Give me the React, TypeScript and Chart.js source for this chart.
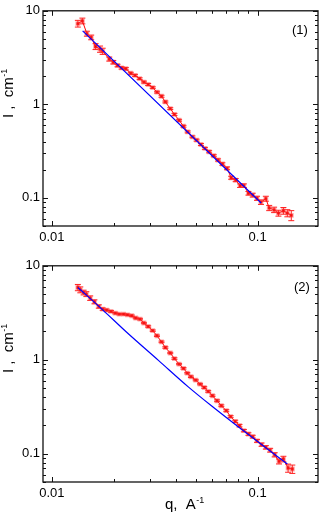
import React, { useEffect, useRef } from 'react';
import { Chart, registerables } from 'chart.js';
Chart.register(...registerables);

// ---------- data: panel (1) ----------
const q1 = [0.01337, 0.01406, 0.01479, 0.01552, 0.0163, 0.01714, 0.01765, 0.019, 0.01987, 0.02084, 0.0218, 0.02287, 0.02416, 0.02535, 0.02669, 0.028, 0.02937, 0.0309, 0.03243, 0.0341, 0.0356, 0.0376, 0.0394, 0.0415, 0.0436, 0.0457, 0.0482, 0.0505, 0.053, 0.0554, 0.0581, 0.0612, 0.0642, 0.0674, 0.071, 0.0744, 0.0782, 0.0822, 0.0857, 0.0902, 0.0946, 0.0993, 0.1038, 0.1096, 0.1138, 0.1202, 0.1262, 0.1334, 0.1394, 0.1457];
const I1 = [7.3, 7.8, 5.7, 5.2, 4.15, 3.9, 3.7, 3.05, 2.82, 2.6, 2.45, 2.4, 2.15, 2.04, 1.88, 1.73, 1.63, 1.51, 1.35, 1.22, 1.06, 0.9, 0.78, 0.676, 0.583, 0.507, 0.449, 0.414, 0.372, 0.338, 0.311, 0.282, 0.254, 0.23, 0.207, 0.164, 0.155, 0.135, 0.135, 0.112, 0.107, 0.099, 0.09, 0.098, 0.078, 0.0745, 0.0687, 0.0728, 0.0687, 0.065];
const err1 = [0.6, 0.55, 0.35, 0.3, 0.3, 0.3, 0.28, 0.15, 0.12, 0.08, 0.07, 0.07, 0.05, 0.05, 0.04, 0.04, 0.04, 0.03, 0.03, 0.03, 0.025, 0.02, 0.02, 0.015, 0.013, 0.012, 0.01, 0.01, 0.009, 0.008, 0.008, 0.007, 0.007, 0.007, 0.007, 0.006, 0.006, 0.006, 0.006, 0.005, 0.005, 0.005, 0.005, 0.006, 0.005, 0.005, 0.005, 0.006, 0.006, 0.008];
const fitQ1 = [0.0141, 0.104];
const fitI1 = [6.1, 0.088];

// ---------- data: panel (2) ----------
const q2 = [0.01337, 0.01374, 0.01426, 0.0147, 0.01535, 0.0161, 0.0169, 0.01765, 0.01845, 0.01937, 0.02032, 0.02124, 0.0223, 0.0233, 0.02445, 0.02555, 0.0268, 0.028, 0.02937, 0.0309, 0.0324, 0.0341, 0.0356, 0.0376, 0.0394, 0.0415, 0.0436, 0.0455, 0.0474, 0.05, 0.0525, 0.055, 0.0575, 0.0603, 0.0635, 0.0666, 0.0704, 0.0739, 0.0778, 0.0816, 0.0857, 0.0902, 0.0946, 0.0993, 0.1045, 0.1096, 0.115, 0.121, 0.127, 0.1334, 0.1406, 0.1474];
const I2 = [5.88, 5.56, 5.2, 5.0, 4.53, 4.14, 3.69, 3.46, 3.38, 3.27, 3.14, 3.06, 3.06, 3.01, 2.94, 2.78, 2.71, 2.46, 2.26, 2.04, 1.8, 1.55, 1.35, 1.18, 1.03, 0.9, 0.81, 0.72, 0.659, 0.608, 0.551, 0.507, 0.46, 0.414, 0.366, 0.324, 0.287, 0.248, 0.221, 0.199, 0.176, 0.162, 0.152, 0.137, 0.125, 0.117, 0.109, 0.0975, 0.0828, 0.0879, 0.0705, 0.0687];
const err2 = [0.45, 0.4, 0.3, 0.3, 0.25, 0.2, 0.15, 0.1, 0.08, 0.07, 0.06, 0.05, 0.05, 0.05, 0.05, 0.05, 0.05, 0.04, 0.04, 0.035, 0.03, 0.03, 0.025, 0.02, 0.02, 0.015, 0.015, 0.013, 0.012, 0.011, 0.01, 0.01, 0.009, 0.008, 0.008, 0.007, 0.007, 0.006, 0.006, 0.006, 0.005, 0.005, 0.005, 0.005, 0.005, 0.005, 0.005, 0.005, 0.005, 0.006, 0.007, 0.007];
const fitQ2 = [0.01337, 0.01765, 0.02287, 0.03304, 0.046, 0.0596, 0.0863, 0.1394];
const fitI2 = [5.88, 3.40, 2.00, 0.98, 0.515, 0.324, 0.172, 0.0776];

// ---------- axes ----------
const xTicks = [0.01, 0.1];
const xTickLabels = ['0.01', '0.1'];
const yTicks = [0.1, 1, 10];
const yTickLabels = ['0.1', '1', '10'];
const minorMantissas = [2, 3, 4, 5, 6, 7, 8, 9];
const xMin = 0.00905, xMax = 0.1965;
const yMin = 0.05, yMax = 10;
const panelLabels = ['(1)', '(2)'];
const yTitle = 'I ,  cm';
const yTitleSup = '-1';
const xTitle = 'q,  A';
const xTitleSup = '-1';

const FONT = "'Liberation Sans', Arial, Helvetica, sans-serif";

function decadeTicks(min: number, max: number) {
  const major: number[] = [];
  const minor: number[] = [];
  for (let e = Math.floor(Math.log10(min)); e <= Math.ceil(Math.log10(max)); e++) {
    const b = Math.pow(10, e);
    if (b >= min * 0.9999 && b <= max * 1.0001) major.push(b);
    minorMantissas.forEach((m) => {
      const v = m * b;
      if (v >= min && v <= max) minor.push(v);
    });
  }
  return { major, minor };
}

type PanelProps = {
  q: number[]; I: number[]; err: number[]; fq: number[]; fI: number[];
  label: string; height: number; xAxisH: number; showXTitle: boolean;
  labelX: number; labelY: number;
};

function Panel(p: PanelProps) {
  const ref = useRef<HTMLCanvasElement | null>(null);
  useEffect(() => {
    const canvas = ref.current!;
    const overlay = {
      id: 'overlay',
      beforeDatasetsDraw(chart: any) {
        const ctx = chart.ctx;
        const xs = chart.scales.x, ys = chart.scales.y;
        ctx.save();
        ctx.strokeStyle = '#ff2020';
        ctx.lineWidth = 1;
        p.q.forEach((qv, i) => {
          const x = xs.getPixelForValue(qv);
          const yTop = ys.getPixelForValue(p.I[i] + p.err[i]);
          const yBot = ys.getPixelForValue(Math.max(p.I[i] - p.err[i], 1e-6));
          ctx.beginPath();
          ctx.moveTo(x, yTop); ctx.lineTo(x, yBot);
          ctx.moveTo(x - 3, yTop); ctx.lineTo(x + 3, yTop);
          ctx.moveTo(x - 3, yBot); ctx.lineTo(x + 3, yBot);
          ctx.stroke();
        });
        ctx.restore();
      },
      afterDraw(chart: any) {
        const ctx = chart.ctx;
        const a = chart.chartArea;
        const xs = chart.scales.x, ys = chart.scales.y;
        ctx.save();
        ctx.strokeStyle = '#111';
        ctx.lineWidth = 1.3;
        ctx.strokeRect(a.left, a.top, a.right - a.left, a.bottom - a.top);
        ctx.lineWidth = 1;
        const xt = decadeTicks(xMin, xMax);
        const yt = decadeTicks(yMin, yMax);
        ctx.beginPath();
        const xtick = (v: number, len: number) => {
          const x = Math.round(xs.getPixelForValue(v)) + 0.5;
          ctx.moveTo(x, a.bottom); ctx.lineTo(x, a.bottom - len);
          ctx.moveTo(x, a.top); ctx.lineTo(x, a.top + len);
        };
        const ytick = (v: number, len: number) => {
          const y = Math.round(ys.getPixelForValue(v)) + 0.5;
          ctx.moveTo(a.left, y); ctx.lineTo(a.left + len, y);
          ctx.moveTo(a.right, y); ctx.lineTo(a.right - len, y);
        };
        xt.major.forEach((v) => xtick(v, 5));
        xt.minor.forEach((v) => xtick(v, 3));
        yt.major.forEach((v) => ytick(v, 5));
        yt.minor.forEach((v) => ytick(v, 3));
        ctx.stroke();

        ctx.fillStyle = '#000';
        ctx.font = `13px ${FONT}`;
        ctx.textAlign = 'left';
        ctx.textBaseline = 'alphabetic';
        ctx.fillText(p.label, p.labelX, p.labelY);

        ctx.save();
        ctx.translate(13, 118);
        ctx.rotate(-Math.PI / 2);
        ctx.font = `15px ${FONT}`;
        ctx.fillText(yTitle, 0, 0);
        const w = ctx.measureText(yTitle).width;
        ctx.font = `9px ${FONT}`;
        ctx.fillText(yTitleSup, w + 0.5, -6);
        ctx.restore();

        if (p.showXTitle) {
          ctx.font = `15px ${FONT}`;
          ctx.fillText(xTitle, 165, chart.height - 5);
          const w2 = ctx.measureText(xTitle).width;
          ctx.font = `9px ${FONT}`;
          ctx.fillText(xTitleSup, 165 + w2 + 0.5, chart.height - 11);
        }
        ctx.restore();
      },
    };

    const chart = new Chart(canvas, {
      type: 'scatter',
      data: {
        datasets: [
          {
            data: p.q.map((x, i) => ({ x, y: p.I[i] })),
            showLine: true,
            borderColor: '#ff0000',
            borderWidth: 1,
            pointStyle: 'rect',
            pointRadius: 2,
            pointBackgroundColor: '#ee0000',
            pointBorderColor: 'rgba(255,60,60,0.45)',
            pointBorderWidth: 2,
            order: 2,
          },
          {
            data: p.fq.map((x, i) => ({ x, y: p.fI[i] })),
            showLine: true,
            borderColor: '#0000ff',
            borderWidth: 1.2,
            pointRadius: 0,
            cubicInterpolationMode: 'monotone',
            order: 1,
          },
        ],
      },
      options: {
        responsive: false,
        animation: false,
        devicePixelRatio: 1,
        layout: { padding: { top: 10, right: 3, left: 0, bottom: 0 } },
        plugins: { legend: { display: false }, tooltip: { enabled: false } },
        scales: {
          x: {
            type: 'logarithmic',
            min: xMin,
            max: xMax,
            grid: { display: false, drawTicks: false },
            border: { display: false },
            afterBuildTicks: (s: any) => { s.ticks = xTicks.map((v) => ({ value: v })); },
            afterFit: (s: any) => { s.height = p.xAxisH; },
            ticks: {
              autoSkip: false,
              maxRotation: 0,
              padding: 4,
              color: '#000',
              font: { family: FONT, size: 13 },
              callback: (v: any) => { const i = xTicks.indexOf(v); return i >= 0 ? xTickLabels[i] : ''; },
            },
          },
          y: {
            type: 'logarithmic',
            min: yMin,
            max: yMax,
            grid: { display: false, drawTicks: false },
            border: { display: false },
            afterBuildTicks: (s: any) => { s.ticks = yTicks.map((v) => ({ value: v })); },
            afterFit: (s: any) => { s.width = 43; },
            ticks: {
              autoSkip: false,
              padding: 3,
              color: '#000',
              font: { family: FONT, size: 13 },
              callback: (v: any) => { const i = yTicks.indexOf(v); return i >= 0 ? yTickLabels[i] : ''; },
            },
          },
        },
      } as any,
      plugins: [overlay],
    });
    return () => chart.destroy();
  }, []);
  return <canvas ref={ref} width={324} height={p.height} style={{ display: 'block', width: 324, height: p.height }} />;
}

export default function App() {
  useEffect(() => {
    document.body.style.margin = '0';
    document.body.style.background = '#fff';
  }, []);
  return (
    <div style={{ width: 324, height: 514, background: '#fff' }}>
      <Panel q={q1} I={I1} err={err1} fq={fitQ1} fI={fitI1} label={panelLabels[0]} height={255} xAxisH={29} showXTitle={false} labelX={292} labelY={34} />
      <Panel q={q2} I={I2} err={err2} fq={fitQ2} fI={fitI2} label={panelLabels[1]} height={259} xAxisH={32} showXTitle={true} labelX={294} labelY={36} />
    </div>
  );
}
